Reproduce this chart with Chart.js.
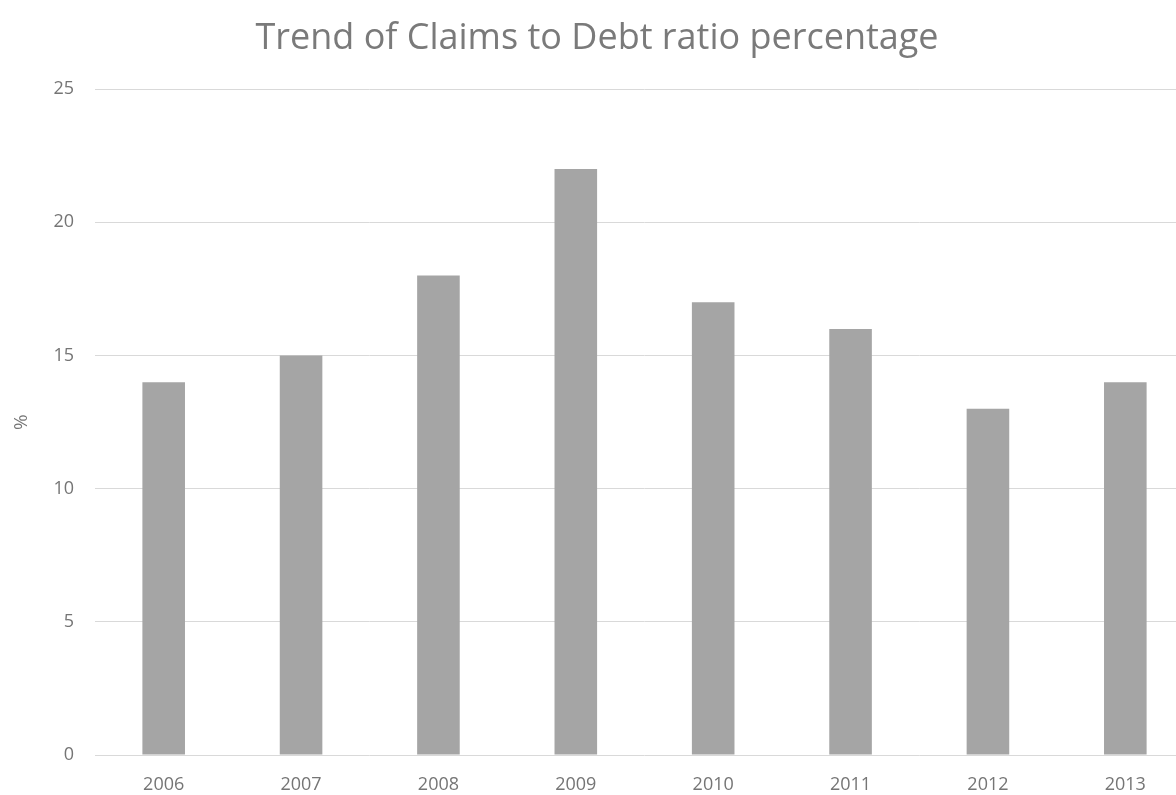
<!DOCTYPE html>
<html>
<head>
<meta charset="utf-8">
<title>Trend of Claims to Debt ratio percentage</title>
<script src="https://cdn.jsdelivr.net/npm/chart.js@4"></script>
<style>
    html, body { margin: 0; padding: 0; background: #ffffff; overflow: hidden; }
    #wrap { position: absolute; left: 0; top: 0; width: 1194px; height: 795px; }
</style>
</head>
<body>
<div id="wrap"><canvas id="claimsChart" width="1194" height="795"></canvas></div>
<script>
// Chart data
const years = ['2006', '2007', '2008', '2009', '2010', '2011', '2012', '2013'];
const claimsToDebt = [14, 15, 18, 22, 17, 16, 13, 14];
const yTicks = [0, 5, 10, 15, 20, 25];

const textGrey = '#757575';
const fontFamily = "'Open Sans', 'Noto Sans', sans-serif";

const ctx = document.getElementById('claimsChart').getContext('2d');

new Chart(ctx, {
    type: 'bar',
    data: {
        labels: years,
        datasets: [{
            label: '%',
            data: claimsToDebt,
            backgroundColor: '#a5a5a5',
            borderWidth: 0,
            barPercentage: 0.31,
            categoryPercentage: 1
        }]
    },
    options: {
        responsive: false,
        animation: false,
        layout: { padding: { top: 17, right: 0, bottom: 0, left: 0 } },
        scales: {
            x: {
                grid: { display: false },
                border: { display: false },
                ticks: { color: textGrey, font: { family: fontFamily, size: 18 }, padding: 11 },
                afterFit: (scale) => { scale.height = 40; }
            },
            y: {
                min: 0,
                max: 25,
                afterBuildTicks: (scale) => { scale.ticks = yTicks.map(v => ({ value: v })); },
                afterFit: (scale) => { scale.width = 95; },
                grid: { color: '#d9d9d9', lineWidth: 1, drawTicks: false },
                border: { display: false },
                ticks: { color: textGrey, font: { family: fontFamily, size: 18 }, padding: 21 },
                title: {
                    display: true,
                    text: '%',
                    color: textGrey,
                    font: { family: fontFamily, size: 19 },
                    padding: { top: 10, bottom: 0 }
                }
            }
        },
        plugins: {
            legend: { display: false },
            tooltip: { enabled: false },
            title: {
                display: true,
                text: 'Trend of Claims to Debt ratio percentage',
                color: '#7a7a7a',
                font: { family: fontFamily, size: 36, weight: 'normal' },
                padding: { top: 0, bottom: 29 }
            }
        }
    }
});
</script>
</body>
</html>
